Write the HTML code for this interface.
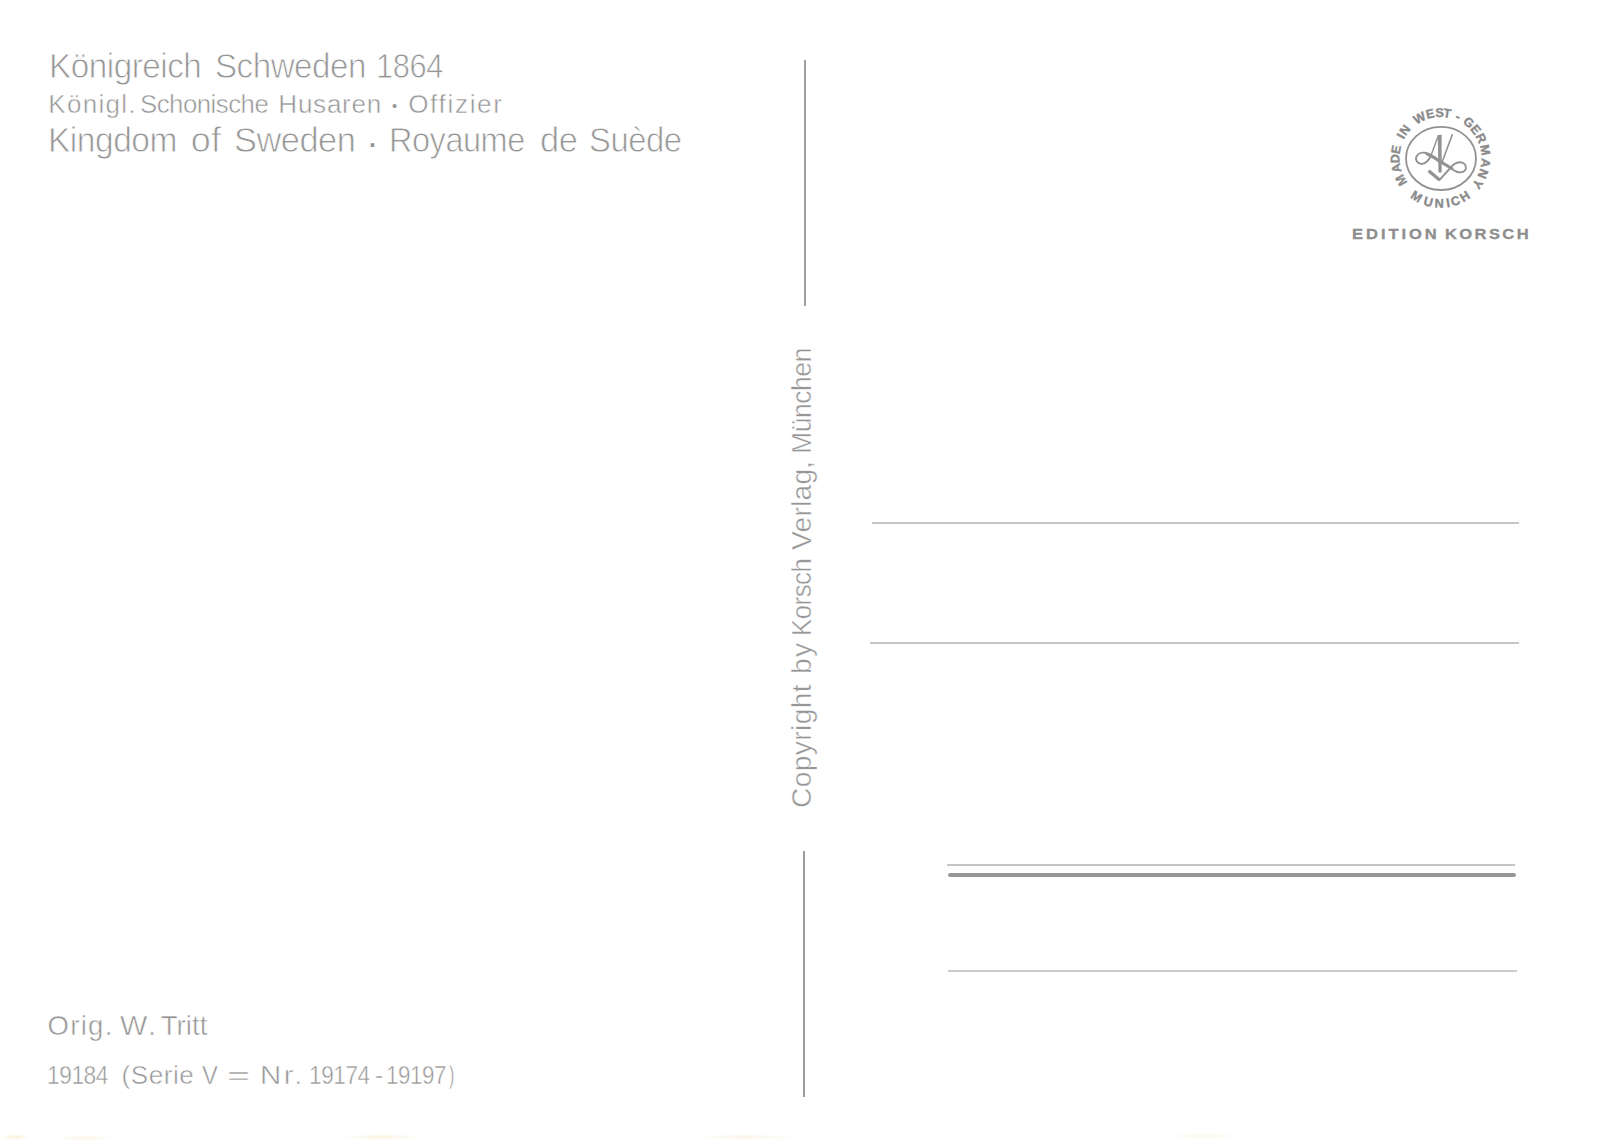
<!DOCTYPE html>
<html><head><meta charset="utf-8"><title>Königreich Schweden 1864</title>
<style>
html,body{margin:0;padding:0;background:#fff;}
body{width:1600px;height:1145px;position:relative;overflow:hidden;font-family:"Liberation Sans",Arial,sans-serif;color:#969696;}
.t{position:absolute;white-space:nowrap;-webkit-text-stroke:0.8px #fff;}
.ln{position:absolute;}
</style></head><body>
<span class="t" style="left:48.6px;top:48.14px;font-size:35.22px;line-height:35.22px;-webkit-text-stroke-width:0.8px;letter-spacing:-0.5px;transform-origin:0 0;transform:scaleX(0.944)">Königreich</span>
<span class="t" style="left:214.5px;top:48.14px;font-size:35.22px;line-height:35.22px;-webkit-text-stroke-width:0.8px;letter-spacing:-0.5px;transform-origin:0 0;transform:scaleX(0.940)">Schweden</span>
<span class="t" style="left:376.35px;top:48.14px;font-size:35.22px;line-height:35.22px;-webkit-text-stroke-width:0.8px;letter-spacing:-0.5px;transform-origin:0 0;transform:scaleX(0.877)">1864</span>
<span class="t" style="left:48.35px;top:90.71px;font-size:26.09px;line-height:26.09px;-webkit-text-stroke-width:0.5px;letter-spacing:1.23px">Königl.</span>
<span class="t" style="left:140.25px;top:90.71px;font-size:26.09px;line-height:26.09px;-webkit-text-stroke-width:0.5px;letter-spacing:-0.5px;transform-origin:0 0;transform:scaleX(0.988)">Schonische</span>
<span class="t" style="left:278.35px;top:90.71px;font-size:26.09px;line-height:26.09px;-webkit-text-stroke-width:0.5px;letter-spacing:0.72px">Husaren</span>
<span class="t" style="left:408.15px;top:90.71px;font-size:26.09px;line-height:26.09px;-webkit-text-stroke-width:0.5px;letter-spacing:1.67px">Offizier</span>
<span class="t" style="left:48.1px;top:121.83px;font-size:35.94px;line-height:35.94px;-webkit-text-stroke-width:0.8px;letter-spacing:-0.5px;transform-origin:0 0;transform:scaleX(0.932)">Kingdom</span>
<span class="t" style="left:190.7px;top:121.83px;font-size:35.94px;line-height:35.94px;-webkit-text-stroke-width:0.8px;letter-spacing:0.3px">of</span>
<span class="t" style="left:233.85px;top:121.83px;font-size:35.94px;line-height:35.94px;-webkit-text-stroke-width:0.8px;letter-spacing:-0.5px;transform-origin:0 0;transform:scaleX(0.957)">Sweden</span>
<span class="t" style="left:389.1px;top:121.83px;font-size:35.94px;line-height:35.94px;-webkit-text-stroke-width:0.8px;letter-spacing:-0.5px;transform-origin:0 0;transform:scaleX(0.904)">Royaume</span>
<span class="t" style="left:539.85px;top:121.83px;font-size:35.94px;line-height:35.94px;-webkit-text-stroke-width:0.8px;letter-spacing:-0.5px;transform-origin:0 0;transform:scaleX(0.960)">de</span>
<span class="t" style="left:589.4px;top:121.83px;font-size:35.94px;line-height:35.94px;-webkit-text-stroke-width:0.8px;letter-spacing:-0.5px;transform-origin:0 0;transform:scaleX(0.913)">Suède</span>
<span class="t" style="left:47.5px;top:1011.78px;font-size:27.54px;line-height:27.54px;-webkit-text-stroke-width:0.5px;letter-spacing:1.29px">Orig.</span>
<span class="t" style="left:119.75px;top:1011.78px;font-size:27.54px;line-height:27.54px;-webkit-text-stroke-width:0.5px;letter-spacing:2.2px;transform-origin:0 0;transform:scaleX(1.050)">W.</span>
<span class="t" style="left:160.65px;top:1011.78px;font-size:27.54px;line-height:27.54px;-webkit-text-stroke-width:0.5px;letter-spacing:0.12px">Tritt</span>
<span class="t" style="left:46.5px;top:1061.91px;font-size:26.09px;line-height:26.09px;-webkit-text-stroke-width:0.5px;letter-spacing:-0.5px;transform-origin:0 0;transform:scaleX(0.871)">19184</span>
<span class="t" style="left:121.5px;top:1061.91px;font-size:26.09px;line-height:26.09px;-webkit-text-stroke-width:0.5px;letter-spacing:0.53px">(Serie</span>
<span class="t" style="left:201.65px;top:1061.91px;font-size:26.09px;line-height:26.09px;-webkit-text-stroke-width:0.5px;transform-origin:0 0;transform:scaleX(0.912)">V</span>
<span class="t" style="left:226.5px;top:1061.91px;font-size:26.09px;line-height:26.09px;-webkit-text-stroke-width:0.5px;transform-origin:0 0;transform:scaleX(1.519)">=</span>
<span class="t" style="left:260.05px;top:1061.91px;font-size:26.09px;line-height:26.09px;-webkit-text-stroke-width:0.5px;letter-spacing:2.2px;transform-origin:0 0;transform:scaleX(1.127)">Nr.</span>
<span class="t" style="left:308.75px;top:1061.91px;font-size:26.09px;line-height:26.09px;-webkit-text-stroke-width:0.5px;letter-spacing:-0.5px;transform-origin:0 0;transform:scaleX(0.868)">19174</span>
<span class="t" style="left:374.75px;top:1061.91px;font-size:26.09px;line-height:26.09px;-webkit-text-stroke-width:0.5px">-</span>
<span class="t" style="left:385.75px;top:1061.91px;font-size:26.09px;line-height:26.09px;-webkit-text-stroke-width:0.5px;letter-spacing:-0.5px;transform-origin:0 0;transform:scaleX(0.858)">19197</span>
<span class="t" style="left:448.75px;top:1061.91px;font-size:26.09px;line-height:26.09px;-webkit-text-stroke-width:0.5px;transform-origin:0 0;transform:scaleX(0.617)">)</span>
<span class="t" style="left:391.9px;top:99.1px;font-size:14.44px;line-height:14.44px;-webkit-text-stroke:0">•</span>
<span class="t" style="left:366.5px;top:126.1px;font-size:35.56px;line-height:35.56px;-webkit-text-stroke:0">·</span>
<span class="t" style="left:786.61px;top:807.62px;font-size:28.19px;line-height:28.19px;letter-spacing:0.38px;transform-origin:0 0;transform:rotate(-90deg) scaleX(1.000);-webkit-text-stroke-width:0.45px">Copyright</span>
<span class="t" style="left:786.61px;top:674.43px;font-size:28.19px;line-height:28.19px;letter-spacing:1.25px;transform-origin:0 0;transform:rotate(-90deg) scaleX(1.000);-webkit-text-stroke-width:0.45px">by</span>
<span class="t" style="left:786.61px;top:635.62px;font-size:28.19px;line-height:28.19px;letter-spacing:-0.5px;transform-origin:0 0;transform:rotate(-90deg) scaleX(0.912);-webkit-text-stroke-width:0.45px">Korsch</span>
<span class="t" style="left:786.61px;top:549.83px;font-size:28.19px;line-height:28.19px;letter-spacing:0.24px;transform-origin:0 0;transform:rotate(-90deg) scaleX(1.000);-webkit-text-stroke-width:0.45px">Verlag,</span>
<span class="t" style="left:786.61px;top:454.43px;font-size:28.19px;line-height:28.19px;letter-spacing:-0.5px;transform-origin:0 0;transform:rotate(-90deg) scaleX(0.942);-webkit-text-stroke-width:0.45px">München</span>
<span class="t" style="left:1351.7px;top:226.26px;font-size:15.07px;line-height:15.07px;letter-spacing:2.67px;font-weight:700;-webkit-text-stroke:0.3px #8e8e8e;color:#8e8e8e;transform-origin:0 0;transform:scaleX(1.100)">EDITION</span>
<span class="t" style="left:1445px;top:226.26px;font-size:15.07px;line-height:15.07px;letter-spacing:2.16px;font-weight:700;-webkit-text-stroke:0.3px #8e8e8e;color:#8e8e8e;transform-origin:0 0;transform:scaleX(1.100)">KORSCH</span>

<div class="ln" style="left:804px;top:60px;width:2px;height:246px;background:#9e9e9e"></div>
<div class="ln" style="left:803.2px;top:851px;width:2px;height:246px;background:#9e9e9e"></div>

<div class="ln" style="left:872px;top:522.2px;width:647px;height:2px;background:#c6c6c6"></div>
<div class="ln" style="left:870px;top:642.2px;width:648.5px;height:2px;background:#c6c6c6"></div>
<div class="ln" style="left:947px;top:864.2px;width:568px;height:1.6px;background:#c4c4c4"></div>
<div class="ln" style="left:947.5px;top:873.3px;width:568.5px;height:3.4px;background:#979797;border-radius:2px"></div>
<div class="ln" style="left:948px;top:969.6px;width:569px;height:2px;background:#cbcbcb"></div>

<div class="ln" style="left:0px;top:1134px;width:30px;height:6px;border-radius:50%;background:radial-gradient(ellipse at center, rgba(235,215,150,0.35), rgba(255,255,255,0) 70%)"></div>
<div class="ln" style="left:55px;top:1135px;width:60px;height:6px;border-radius:50%;background:radial-gradient(ellipse at center, rgba(235,215,150,0.25), rgba(255,255,255,0) 70%)"></div>
<div class="ln" style="left:340px;top:1134px;width:85px;height:6px;border-radius:50%;background:radial-gradient(ellipse at center, rgba(235,215,150,0.3), rgba(255,255,255,0) 70%)"></div>
<div class="ln" style="left:690px;top:1134px;width:110px;height:6px;border-radius:50%;background:radial-gradient(ellipse at center, rgba(235,215,150,0.25), rgba(255,255,255,0) 70%)"></div>
<div class="ln" style="left:1160px;top:1133px;width:90px;height:6px;border-radius:50%;background:radial-gradient(ellipse at center, rgba(235,225,160,0.2), rgba(255,255,255,0) 70%)"></div>
<svg style="position:absolute;left:0;top:0" width="1600" height="1145" viewBox="0 0 1600 1145">
<g transform="translate(1440.5,158.0)" fill="#8a8a8a" stroke="#8a8a8a" stroke-width="0.35" font-family="Liberation Sans, Arial, sans-serif" font-weight="700" font-size="12.6" >
<path id="ringTop" d="M-14.023,38.527 A41.0,41.0 0 1 1 14.023,38.527" fill="none" stroke="none"/>
<text dx="23.66 2.22 -0.80 -0.38 0.52 2.98 0.35 2.32 0.93 0.16 0.33 -1.25 -0.45 1.30 1.66 -1.14 -0.01 0.41 1.44 2.15 0.85 1.55"><textPath href="#ringTop">MADE IN WEST - GERMANY</textPath></text>
<path id="ringBot" d="M-49.610,4.340 A49.8,49.8 0 0 0 49.610,4.340" fill="none" stroke="none"/>
<text dx="40.82 4.28 2.90 3.52 2.04 2.29"><textPath href="#ringBot">MUNICH</textPath></text>
</g>
<ellipse cx="1441" cy="158.4" rx="35" ry="31.6" fill="none" stroke="#929292" stroke-width="1.8"/>
<g transform="translate(1410,125) scale(0.05241)" fill="none" stroke="#929292" stroke-linecap="round" stroke-linejoin="round">
  <path d="M530,190 L603,186 L603,905 L543,905 Z" fill="#929292" stroke="none"/>
  <path d="M540,205 L400,580" stroke-width="28"/>
  <path d="M805,188 L615,700" stroke-width="30"/>
  <path d="M400,580 C370,660 300,745 220,742 C130,738 100,660 120,610 C145,545 220,520 280,530 C360,545 420,590 480,630" stroke-width="38"/>
  <path d="M330,555 C420,590 500,650 560,690 L800,830" stroke-width="60"/>
  <path d="M760,810 C830,860 880,905 960,905 C1040,905 1075,850 1065,795 C1055,740 1000,710 945,712 C870,715 800,780 760,830 L560,1050" stroke-width="36"/>
  <path d="M355,875 L560,1045" stroke-width="62" stroke-linecap="butt"/>
</g>
</svg>
</body></html>
